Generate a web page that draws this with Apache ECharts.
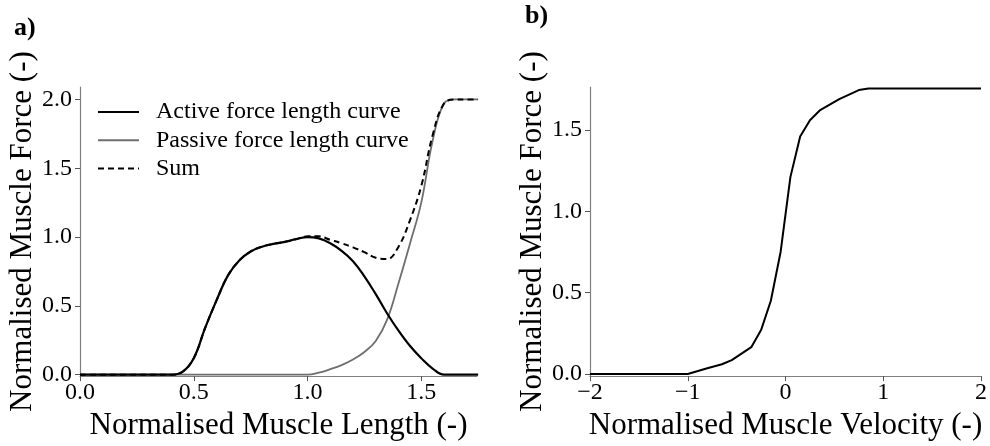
<!DOCTYPE html>
<html>
<head>
<meta charset="utf-8">
<script src="https://cdn.jsdelivr.net/npm/echarts@6/dist/echarts.min.js"></script>
<style>
html,body{margin:0;padding:0;background:#fff;}
#chart{width:990px;height:446px;}
</style>
</head>
<body>
<div id="chart"></div>
<script>
// ---- Panel a) data ----
const lengthX = [0.00,0.05,0.10,0.15,0.20,0.25,0.30,0.35,0.40,0.45,0.50,0.55,0.60,0.65,0.70,0.75,0.80,0.85,0.90,0.95,1.00,1.05,1.10,1.15,1.20,1.25,1.30,1.35,1.40,1.45,1.50,1.55,1.60,1.65,1.70,1.75];
const activeForce = [0,0,0,0,0,0,0,0,0,0.02,0.12,0.34,0.54,0.72,0.83,0.895,0.93,0.95,0.965,0.985,1.0,0.99,0.955,0.9,0.825,0.715,0.585,0.445,0.32,0.21,0.12,0.045,0.0,0,0,0];
const passiveForce = [0,0,0,0,0,0,0,0,0,0,0,0,0,0,0,0,0,0,0,0,0,0.015,0.04,0.07,0.11,0.165,0.245,0.4,0.665,0.95,1.25,1.7,1.97,2.0,2.0,2.0];
const sumForce = [0,0,0,0,0,0,0,0,0,0.02,0.12,0.34,0.54,0.72,0.83,0.895,0.93,0.95,0.965,0.985,1.005,1.005,0.98,0.955,0.925,0.89,0.85,0.84,0.93,1.12,1.37,1.74,1.97,2.0,2.0,2.0];
const lengthTicks = [0, 0.5, 1.0, 1.5];
const forceTicksA = [0, 0.5, 1.0, 1.5, 2.0];
const legendNames = ['Active force length curve', 'Passive force length curve', 'Sum'];

// ---- Panel b) data ----
const velocityX = [-2, -1, -0.8, -0.65, -0.55, -0.35, -0.25, -0.15, -0.05, 0.05, 0.15, 0.25, 0.35, 0.55, 0.75, 0.85, 2];
const velocityForce = [0, 0, 0.035, 0.06, 0.085, 0.165, 0.27, 0.45, 0.75, 1.21, 1.46, 1.56, 1.62, 1.69, 1.745, 1.755, 1.755];
const velocityTicks = [-2, -1, 0, 1, 2];
const forceTicksB = [0, 0.5, 1.0, 1.5];

const pairs = (xs, ys) => xs.map((x, i) => [x, ys[i]]);

const FONT = '"Liberation Serif", "Times New Roman", serif';
const AXIS_COLOR = '#7f7f7f';

function axisCommon(ticks, fmt, margin) {
  return {
    axisLine: { show: true, onZero: false, lineStyle: { color: AXIS_COLOR, width: 1.2 } },
    axisTick: { show: true, length: 5, customValues: ticks, lineStyle: { color: '#555', width: 1 } },
    axisLabel: { customValues: ticks, formatter: fmt, color: '#000', fontFamily: FONT, fontSize: 24, margin: margin },
    splitLine: { show: false },
    nameLocation: 'middle',
    nameTextStyle: { color: '#000', fontFamily: FONT, fontSize: 31 }
  };
}

const fmt1 = v => Number(v).toFixed(1);
const fmtMinus = v => (v < 0 ? '\u2212' + Math.abs(v) : String(v));

const chart = echarts.init(document.getElementById('chart'), null, { renderer: 'canvas' });
chart.setOption({
  animation: false,
  backgroundColor: '#fff',
  title: [
    { text: 'a)', left: 14, top: 15, padding: 0, textStyle: { fontFamily: FONT, fontWeight: 'bold', fontSize: 26, color: '#000' } },
    { text: 'b)', left: 525, top: 3, padding: 0, textStyle: { fontFamily: FONT, fontWeight: 'bold', fontSize: 26, color: '#000' } }
  ],
  grid: [
    { left: 80, top: 87, width: 397, height: 295, containLabel: false },
    { left: 590, top: 87, width: 396, height: 295, containLabel: false }
  ],
  legend: {
    data: legendNames,
    orient: 'vertical',
    left: 97,
    top: 100,
    itemWidth: 41,
    itemHeight: 14,
    itemGap: 4.3,
    padding: 0,
    itemStyle: { opacity: 0 },
    textStyle: { fontFamily: FONT, fontSize: 24, color: '#000', lineHeight: 24, padding: [0, 0, 0, 12] }
  },
  xAxis: [
    Object.assign(axisCommon(lengthTicks, fmt1, 5), {
      type: 'value', gridIndex: 0, min: 0, max: 1.745,
      name: 'Normalised Muscle Length (-)', nameGap: 25
    }),
    Object.assign(axisCommon(velocityTicks, fmtMinus, 5), {
      type: 'value', gridIndex: 1, min: -2, max: 2,
      name: 'Normalised Muscle Velocity (-)', nameGap: 25
    })
  ],
  yAxis: [
    Object.assign(axisCommon(forceTicksA, fmt1, 8), {
      type: 'value', gridIndex: 0, min: -0.01, max: 2.09,
      name: 'Normalised Muscle Force (-)', nameGap: 41
    }),
    Object.assign(axisCommon(forceTicksB, fmt1, 8), {
      type: 'value', gridIndex: 1, min: -0.013, max: 1.764,
      name: 'Normalised Muscle Force (-)', nameGap: 41
    })
  ],
  series: [
    {
      name: legendNames[0], type: 'line', xAxisIndex: 0, yAxisIndex: 0,
      data: pairs(lengthX, activeForce), smooth: 0.4, symbol: 'none',
      lineStyle: { color: '#000', width: 2.2 }, itemStyle: { color: '#000' }, z: 3
    },
    {
      name: legendNames[1], type: 'line', xAxisIndex: 0, yAxisIndex: 0,
      data: pairs(lengthX, passiveForce), smooth: 0.4, symbol: 'none',
      lineStyle: { color: '#6e6e6e', width: 1.8 }, itemStyle: { color: '#6e6e6e' }, z: 2
    },
    {
      name: legendNames[2], type: 'line', xAxisIndex: 0, yAxisIndex: 0,
      data: pairs(lengthX, sumForce), smooth: 0.4, symbol: 'none',
      lineStyle: { color: '#000', width: 2, type: [6, 4] }, itemStyle: { color: '#000' }, z: 4
    },
    {
      name: 'Force velocity', type: 'line', xAxisIndex: 1, yAxisIndex: 1,
      data: pairs(velocityX, velocityForce), smooth: false, symbol: 'none',
      lineStyle: { color: '#000', width: 2 }, itemStyle: { color: '#000' }
    }
  ]
});
</script>
</body>
</html>
